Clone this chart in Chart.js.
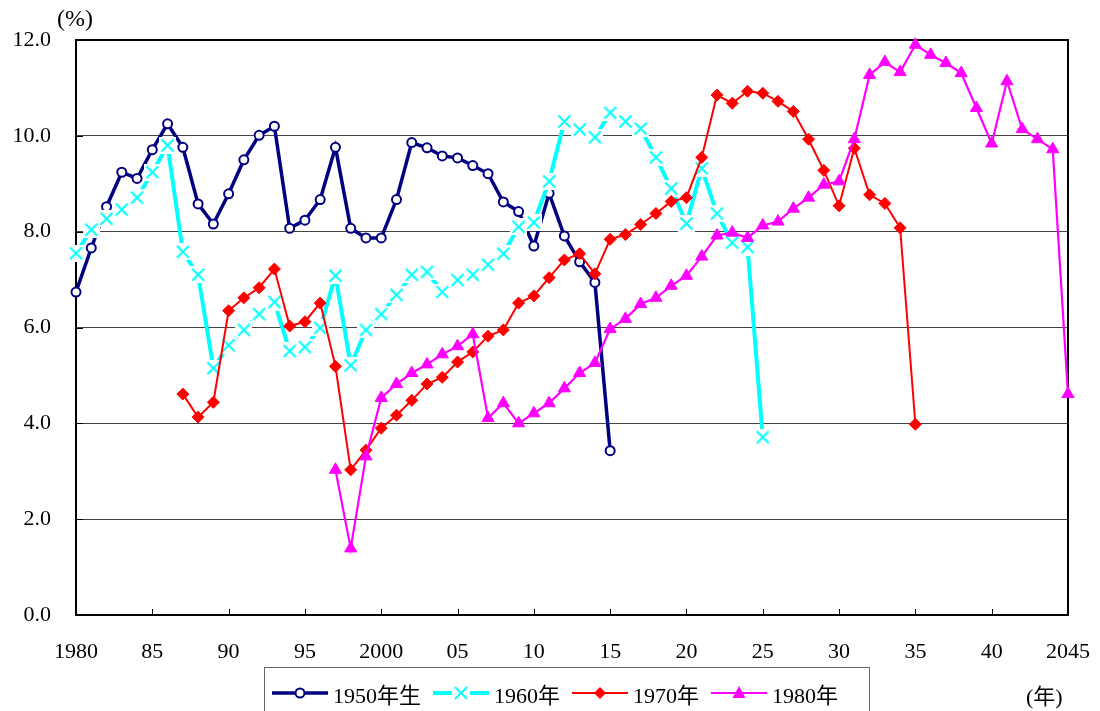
<!DOCTYPE html>
<html lang="ja">
<head>
<meta charset="utf-8">
<title>世代別の割合</title>
<script src="https://cdn.jsdelivr.net/npm/chart.js@4.4.0/dist/chart.umd.min.js"></script>
<style>
  html, body { margin: 0; padding: 0; background: #fff; overflow: hidden; }
  #wrap { position: relative; width: 1100px; height: 711px; }
  .lbl { position: absolute; font: 22px "Liberation Serif", "Noto Sans CJK JP", serif; color: #000; white-space: nowrap; }
  #legend {
    position: absolute; left: 264px; top: 667px; width: 606px; height: 52px;
    border: 1px solid #666; box-sizing: border-box;
    display: flex; align-items: center; padding-left: 7px;
    font: 22px "Liberation Serif", "Noto Sans CJK JP", serif; color: #000;
  }
  .item { display: flex; align-items: center; margin-right: 12px; }
  .item svg { margin-right: 5px; }
</style>
</head>
<body>
<div id="wrap">
  <canvas id="grafico" width="1100" height="711"></canvas>
  <div class="lbl" style="left:57px; top:5px; font-size:24px;">(%)</div>
  <div class="lbl" style="left:1026px; top:678px;">(年)</div>
  <div id="legend"></div>
</div>
<script>
// datos
const anios = { inicio: 1980, fin: 2045 };

const inicio1950 = 1980;
const valores1950 = [6.74, 7.66, 8.52, 9.24, 9.11, 9.71, 10.25, 9.76, 8.58, 8.16, 8.79, 9.50, 10.01, 10.20, 8.07, 8.24, 8.67, 9.76, 8.07, 7.87, 7.87, 8.67, 9.86, 9.75, 9.58, 9.54, 9.38, 9.21, 8.62, 8.42, 7.70, 8.80, 7.91, 7.37, 6.94, 3.43];

const inicio1960 = 1980;
const valores1960 = [7.55, 8.04, 8.27, 8.46, 8.71, 9.24, 9.80, 7.58, 7.10, 5.15, 5.63, 5.95, 6.28, 6.53, 5.51, 5.59, 5.99, 7.08, 5.21, 5.95, 6.28, 6.68, 7.10, 7.16, 6.74, 6.99, 7.10, 7.31, 7.54, 8.10, 8.19, 9.05, 10.30, 10.13, 9.97, 10.48, 10.30, 10.15, 9.55, 8.90, 8.17, 9.32, 8.38, 7.77, 7.68, 3.71];

const inicio1970 = 1987;
const valores1970 = [4.61, 4.13, 4.44, 6.35, 6.62, 6.83, 7.22, 6.03, 6.12, 6.51, 5.19, 3.03, 3.44, 3.90, 4.17, 4.48, 4.82, 4.96, 5.28, 5.49, 5.82, 5.95, 6.51, 6.66, 7.04, 7.41, 7.54, 7.12, 7.84, 7.94, 8.15, 8.38, 8.63, 8.71, 9.55, 10.85, 10.68, 10.93, 10.89, 10.72, 10.51, 9.93, 9.28, 8.54, 9.74, 8.77, 8.59, 8.08, 3.98];

const inicio1980 = 1997;
const valores1980 = [3.03, 1.39, 3.31, 4.53, 4.82, 5.05, 5.23, 5.44, 5.61, 5.86, 4.11, 4.42, 4.00, 4.21, 4.42, 4.73, 5.05, 5.26, 5.97, 6.18, 6.49, 6.62, 6.87, 7.08, 7.48, 7.92, 7.98, 7.87, 8.13, 8.21, 8.48, 8.71, 8.98, 9.05, 9.93, 11.27, 11.54, 11.33, 11.90, 11.69, 11.52, 11.31, 10.58, 9.84, 11.14, 10.14, 9.93, 9.72, 4.61];

const etiquetas = ['1950年生', '1960年', '1970年', '1980年'];
const ejeY = { min: 0, max: 12, paso: 2 };

function puntos(inicio, valores) {
    return valores.map((v, i) => ({ x: inicio + i, y: v }));
}

// marcador X con fondo blanco (como en el original)
function marcadorX() {
    const c = document.createElement('canvas');
    c.width = 17; c.height = 17;
    const g = c.getContext('2d');
    g.fillStyle = '#fff';
    g.fillRect(0, 0, 17, 17);
    g.strokeStyle = '#00ffff';
    g.lineWidth = 2;
    g.beginPath();
    g.moveTo(2.5, 2.5); g.lineTo(14.5, 14.5);
    g.moveTo(14.5, 2.5); g.lineTo(2.5, 14.5);
    g.stroke();
    return c;
}

// marco, ticks hacia adentro
const marcoPlugin = {
    id: 'marco',
    beforeDatasetsDraw(chart) {
        const { ctx, chartArea: a, scales: { x, y } } = chart;
        ctx.save();
        ctx.strokeStyle = '#000';
        ctx.lineWidth = 1;
        ctx.beginPath();
        for (let yr = anios.inicio + 5; yr < anios.fin; yr += 5) {
            const px = Math.round(x.getPixelForValue(yr)) + 0.5;
            ctx.moveTo(px, a.bottom);
            ctx.lineTo(px, a.bottom - 6);
        }
        for (let v = ejeY.paso; v < ejeY.max; v += ejeY.paso) {
            const py = Math.round(y.getPixelForValue(v)) + 0.5;
            ctx.moveTo(a.left, py);
            ctx.lineTo(a.left + 7, py);
        }
        ctx.stroke();
        ctx.lineWidth = 2;
        ctx.strokeRect(a.left, a.top, a.right - a.left, a.bottom - a.top);
        ctx.restore();
    }
};

const fuente = { family: '"Liberation Serif", "Noto Sans CJK JP", serif', size: 22 };

new Chart(document.getElementById('grafico').getContext('2d'), {
    type: 'line',
    data: {
        datasets: [
            {
                label: etiquetas[0],
                data: puntos(inicio1950, valores1950),
                borderColor: '#000080',
                borderWidth: 3.5,
                pointStyle: 'circle',
                pointRadius: 4.5,
                pointBorderWidth: 2,
                pointBackgroundColor: '#ffffff',
                pointBorderColor: '#000080',
                order: 4,
                clip: false
            },
            {
                label: etiquetas[1],
                data: puntos(inicio1960, valores1960),
                borderColor: '#00ffff',
                borderWidth: 4,
                pointStyle: marcadorX(),
                pointRadius: 7,
                order: 3,
                clip: false
            },
            {
                label: etiquetas[2],
                data: puntos(inicio1970, valores1970),
                borderColor: '#ff0000',
                borderWidth: 2,
                pointStyle: 'rectRot',
                pointRadius: 6,
                pointBorderWidth: 1,
                pointBackgroundColor: '#ff0000',
                pointBorderColor: '#ff0000',
                order: 2,
                clip: false
            },
            {
                label: etiquetas[3],
                data: puntos(inicio1980, valores1980),
                borderColor: '#ff00ff',
                borderWidth: 2.2,
                pointStyle: 'triangle',
                pointRadius: 7,
                pointBorderWidth: 1,
                pointBackgroundColor: '#ff00ff',
                pointBorderColor: '#ff00ff',
                order: 1,
                clip: false
            }
        ]
    },
    options: {
        responsive: false,
        animation: false,
        devicePixelRatio: 1,
        layout: { padding: { top: 40, right: 32, left: 0, bottom: 0 } },
        plugins: {
            legend: { display: false },
            tooltip: { enabled: false }
        },
        elements: { line: { tension: 0 } },
        scales: {
            x: {
                type: 'linear',
                min: anios.inicio,
                max: anios.fin,
                grid: { display: false, drawTicks: false },
                border: { display: false },
                ticks: {
                    stepSize: 5,
                    autoSkip: false,
                    maxRotation: 0,
                    padding: 24,
                    color: '#000',
                    font: fuente,
                    callback: v => (v === 1980 || v === 2000 || v === 2045) ? String(v) : String(v).slice(2)
                },
                afterFit: s => { s.height = 96; s.paddingLeft = 0; s.paddingRight = 0; }
            },
            y: {
                min: ejeY.min,
                max: ejeY.max,
                grid: { color: '#444', lineWidth: 1, drawTicks: false },
                border: { display: false },
                ticks: {
                    stepSize: ejeY.paso,
                    padding: 25,
                    color: '#000',
                    font: fuente,
                    callback: v => v.toFixed(1)
                },
                afterFit: s => { s.width = 76; s.paddingTop = 0; s.paddingBottom = 0; }
            }
        }
    },
    plugins: [marcoPlugin]
});

// leyenda (HTML, con linea + marcador)
const simbolos = [
    '<line x1="0" y1="7" x2="56" y2="7" stroke="#000080" stroke-width="3.5"/><circle cx="28" cy="7" r="4.5" fill="#fff" stroke="#000080" stroke-width="2"/>',
    '<line x1="0" y1="7" x2="19" y2="7" stroke="#00ffff" stroke-width="4"/><line x1="37" y1="7" x2="56" y2="7" stroke="#00ffff" stroke-width="4"/><path d="M22 1 L34 13 M34 1 L22 13" stroke="#00ffff" stroke-width="2"/>',
    '<line x1="0" y1="7" x2="56" y2="7" stroke="#ff0000" stroke-width="2"/><path d="M28 1 L34 7 L28 13 L22 7 Z" fill="#ff0000"/>',
    '<line x1="0" y1="7" x2="56" y2="7" stroke="#ff00ff" stroke-width="2.2"/><path d="M28 0 L34.5 12 L21.5 12 Z" fill="#ff00ff"/>'
];
const leyenda = document.getElementById('legend');
etiquetas.forEach((txt, i) => {
    const item = document.createElement('div');
    item.className = 'item';
    item.innerHTML = `<svg width="56" height="14" viewBox="0 0 56 14">${simbolos[i]}</svg><span>${txt}</span>`;
    leyenda.appendChild(item);
});
</script>
</body>
</html>
